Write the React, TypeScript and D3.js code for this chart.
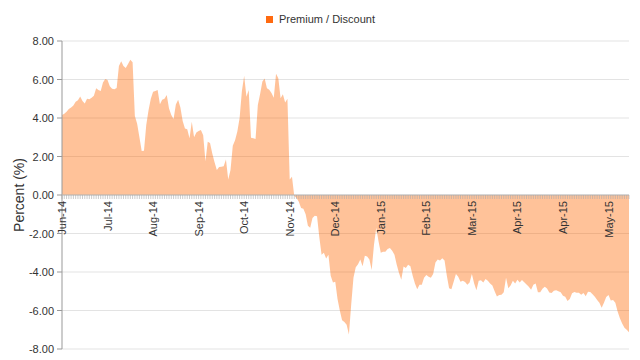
import React from "react";
import * as d3 from "d3";

const seriesName = "Premium / Discount";
const yTicks = [8, 6, 4, 2, 0, -2, -4, -6, -8];
const tickLabels = [
  "Jun-14", "Jul-14", "Aug-14", "Sep-14", "Oct-14", "Nov-14", "Dec-14",
  "Jan-15", "Feb-15", "Mar-15", "Apr-15", "Apr-15", "May-15",
];
const labelEvery = 20;

const valuesA = [
  4.15, 4.22, 4.33, 4.47, 4.54, 4.65, 4.85, 4.92, 5.12, 4.88,
  4.75, 5.0, 4.98, 5.05, 5.15, 5.54, 5.45, 5.4, 5.85, 6.02,
  5.98, 5.65, 5.52, 5.5, 5.56, 6.7, 6.95, 6.7, 6.6, 6.8,
  7.02, 6.9, 4.1, 3.7, 3.0, 2.29, 2.3, 3.64, 4.4, 5.0,
  5.37, 5.4, 5.45, 4.72, 4.95, 5.0, 5.2, 4.5, 4.15, 3.95,
  4.7, 4.95, 4.55, 3.85, 3.45, 3.42, 2.95, 3.8, 3.0, 3.25,
  3.32, 3.38, 3.1, 1.75, 2.77, 2.7, 2.15, 1.7, 1.3, 1.45,
  1.47, 1.5, 1.85, 0.8, 1.3, 2.56, 2.85, 3.3, 4.0, 5.4,
  6.2, 5.1, 5.45, 2.98, 2.95, 2.91, 4.68, 5.25, 5.9, 6.05,
  5.54, 5.47, 5.3, 5.05, 6.3, 6.06, 5.02, 5.23, 4.8, 5.0,
  0.8, 0.95, -0.05,
];
const valuesB = [
  -0.15, -0.35, -0.68, -0.72, -1.0, -1.6, -1.7,
  -1.2, -1.08, -1.1, -2.2, -3.1, -3.0, -3.3, -3.1, -4.2, -4.55,
  -4.5, -5.4, -6.0, -6.5, -6.6, -6.74, -7.25, -5.7, -4.3, -3.75,
  -3.6, -3.35, -3.7, -3.15, -3.2, -3.35, -3.9, -2.6, -1.7, -2.4,
  -3.0, -2.95, -2.95, -2.8, -2.75, -2.9, -3.1, -3.62, -4.05, -4.4,
  -3.72, -3.79, -3.62, -3.7, -4.2, -4.6, -4.9, -4.66, -4.66, -4.3,
  -4.15, -4.25, -4.3, -4.1, -3.5, -3.35, -3.4, -3.28, -3.4, -4.2,
  -4.85, -4.9, -4.5, -4.1, -4.25, -4.5,
];
const valuesC = [
  -4.45, -4.52, -4.66, -4.55, -4.1, -4.6, -4.95, -4.45, -4.43, -4.54,
  -4.37, -4.45, -4.6, -4.7, -5.0, -5.27, -5.2, -5.18, -5.05, -4.3,
  -4.85, -4.7, -4.45, -4.6, -4.4, -4.55, -4.42, -4.53, -4.65, -4.77,
  -4.92, -4.66, -4.6, -5.05, -5.05, -4.87, -4.76, -4.86, -5.06, -5.09,
  -4.98, -4.95, -5.0, -5.05, -5.23, -5.29, -5.5, -5.4, -5.1, -5.04,
  -5.08, -5.08, -5.18, -5.09, -5.26, -5.02, -5.04, -5.15, -5.29, -5.46,
  -5.6, -5.86, -5.6, -5.3, -5.2, -5.48, -5.46, -5.6, -6.05, -6.4,
  -6.67, -6.9, -7.0, -7.13,
];
const values = [...valuesA, ...valuesB, ...valuesC];

const W = 640;
const H = 360;
const left = 62;
const right = 629;
const top = 41;
const bottom = 349;
const font = "'Liberation Sans', Arial, sans-serif";

export default function App() {
  const idx = values.map((_, i) => i);
  const x = d3.scalePoint<number>().domain(idx).range([left, right]);
  const y = d3.scaleLinear().domain([-8, 8]).range([bottom, top]);
  const area = d3
    .area<number>()
    .x((_, i) => x(i) as number)
    .y0(y(0))
    .y1((d) => y(d));
  const y0 = y(0);

  return (
    <svg
      width={W}
      height={H}
      style={{ position: "absolute", left: 0, top: 0, background: "#fff" }}
      fontFamily={font}
    >
      {/* legend */}
      <rect x={266} y={16} width={7} height={7} fill="#ff6a10" />
      <text x={279} y={23} fontSize={11} fill="#333">
        {seriesName}
      </text>

      {/* grid */}
      {yTicks.map((t) => (
        <line
          key={"g" + t}
          x1={left}
          x2={right}
          y1={y(t)}
          y2={y(t)}
          stroke="#e3e3e3"
          strokeWidth={1}
        />
      ))}

      {/* area */}
      <path d={area(values) || ""} fill="#ff6600" fillOpacity={0.4} />

      {/* y axis */}
      <line x1={left} x2={left} y1={top} y2={bottom} stroke="#999" />
      {yTicks.map((t) => (
        <g key={"y" + t}>
          <line x1={left - 5} x2={left} y1={y(t)} y2={y(t)} stroke="#999" />
          <text
            x={left - 8}
            y={y(t) + 4}
            textAnchor="end"
            fontSize={11}
            fill="#333"
          >
            {t.toFixed(2)}
          </text>
        </g>
      ))}
      <text
        transform={`translate(24,${(top + bottom) / 2}) rotate(-90)`}
        textAnchor="middle"
        fontSize={14}
        fill="#333"
      >
        Percent (%)
      </text>

      {/* x axis */}
      <line x1={left} x2={right} y1={y0} y2={y0} stroke="#bbb" />
      {idx.map((i) => (
        <line
          key={"xt" + i}
          x1={x(i)}
          x2={x(i)}
          y1={y0}
          y2={y0 + 4}
          stroke="#aaa"
          strokeWidth={0.6}
        />
      ))}
      {tickLabels.map((lab, k) => {
        const xi = x(k * labelEvery) as number;
        return (
          <text
            key={"xl" + k}
            transform={`translate(${xi + 4},${y0 + 6}) rotate(-90)`}
            textAnchor="end"
            fontSize={11}
            fill="#333"
          >
            {lab}
          </text>
        );
      })}
    </svg>
  );
}
